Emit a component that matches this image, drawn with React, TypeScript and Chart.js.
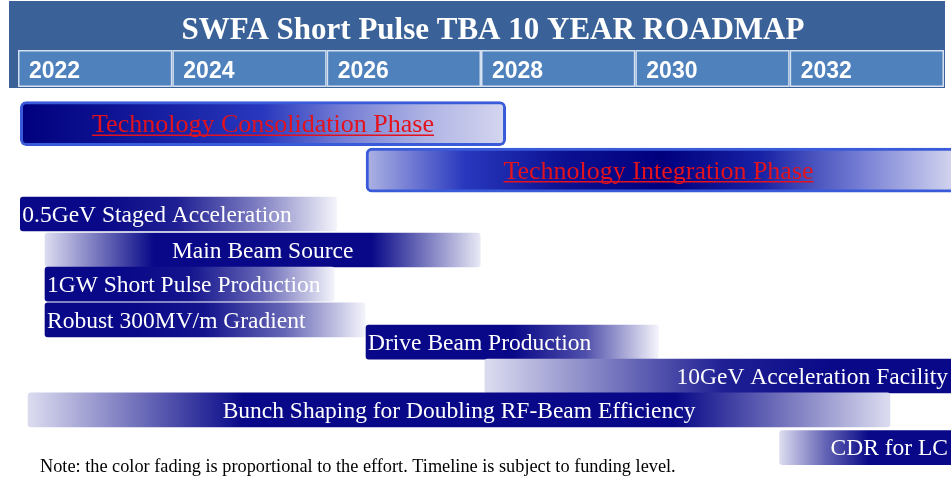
import { useEffect, useRef } from 'react';
import { Chart, registerables } from 'chart.js';

Chart.register(...registerables);

// ---------- data ----------
const TITLE = 'SWFA Short Pulse TBA 10 YEAR ROADMAP';
const YEAR_TICKS = [2022, 2024, 2026, 2028, 2030, 2032];
const YEAR_MIN = 2022;
const YEAR_MAX = 2034;
const NOTE = 'Note: the color fading is proportional to the effort. Timeline is subject to funding level.';

const PHASES = ['Technology Consolidation Phase', 'Technology Integration Phase'];
const PHASE_START = [2022.03, 2026.51];
const PHASE_END = [2028.32, 2034.2];
const PHASE_ROW = [0.49, 1.78];
const PHASE_EFFORT = [
  [1, 0.85, 0.68, 0.5, 0.3, 0.15, 0.05],
  [0.15, 0.5, 0.85, 1, 0.7, 0.3, 0.04],
];

const TASKS = [
  '0.5GeV Staged Acceleration',
  'Main Beam Source',
  '1GW Short Pulse Production',
  'Robust 300MV/m Gradient',
  'Drive Beam Production',
  '10GeV Acceleration Facility',
  'Bunch Shaping for Doubling RF-Beam Efficiency',
  'CDR for LC',
];
const TASK_START = [2022.03, 2022.35, 2022.35, 2022.35, 2026.51, 2028.05, 2022.13, 2031.87];
const TASK_END = [2026.13, 2027.99, 2026.1, 2026.5, 2030.3, 2034.2, 2033.3, 2034.2];
const TASK_ROW = [3.0, 4.0, 4.95, 5.94, 6.56, 7.5, 8.44, 9.49];
const TASK_EFFORT = [
  [1, 1, 0.9, 0.5, 0],
  [0.1, 1, 1, 1, 0.05],
  [1, 1, 0.95, 0.6, 0],
  [1, 1, 0.95, 0.6, 0],
  [1, 1, 1, 0.7, 0],
  [0.1, 0.5, 0.9, 1, 1],
  [0.1, 1, 1, 1, 0.1],
  [0.1, 0.6, 1, 1, 1],
];
const TASK_ALIGN = ['left', 'center', 'left', 'left', 'left', 'right', 'center', 'right'];
const PHASE_ALIGN = ['center', 'center'];

// ---------- colours ----------
function mix(a: number[], b: number[], t: number) {
  return a.map((v, i) => Math.round(v + (b[i] - v) * t));
}
function taskColor(e: number) {
  const dark = [8, 8, 136];
  const light = [244, 244, 251];
  const c = mix(light, dark, e);
  return `rgb(${c[0]},${c[1]},${c[2]})`;
}
function phaseColor(e: number) {
  const dark = [0, 0, 125];
  const mid = [40, 56, 190];
  const light = [232, 232, 244];
  const c = e < 0.5 ? mix(light, mid, e / 0.5) : mix(mid, dark, (e - 0.5) / 0.5);
  return `rgb(${c[0]},${c[1]},${c[2]})`;
}

function gradientFor(ctx: any, profile: number[], colorFn: (e: number) => string) {
  if (ctx.type !== 'data') return 'rgba(0,0,0,0)';
  const chart = ctx.chart;
  const xs = chart.scales.x;
  const raw = ctx.raw as { x: number[] };
  const x0 = xs.getPixelForValue(raw.x[0]);
  const x1 = xs.getPixelForValue(raw.x[1]);
  if (!isFinite(x0) || !isFinite(x1) || x0 === x1) return colorFn(profile[0]);
  const g = chart.ctx.createLinearGradient(x0, 0, x1, 0);
  profile.forEach((e, i) => g.addColorStop(i / (profile.length - 1), colorFn(e)));
  return g;
}

// ---------- plugins ----------
const headerPlugin = {
  id: 'roadmapHeader',
  beforeDraw(chart: any) {
    const ctx = chart.ctx as CanvasRenderingContext2D;
    const xs = chart.scales.x;
    ctx.save();
    ctx.fillStyle = '#3B6298';
    ctx.fillRect(9, 1, 936, 87);
    ctx.fillStyle = '#FFFFFF';
    ctx.font = 'bold 31px "Liberation Serif"';
    ctx.textAlign = 'center';
    ctx.textBaseline = 'alphabetic';
    ctx.fillText(TITLE, 493, 39);
    YEAR_TICKS.forEach((t) => {
      const x0 = xs.getPixelForValue(t);
      const x1 = xs.getPixelForValue(t + 2);
      ctx.fillStyle = '#4F81BD';
      ctx.fillRect(x0, 50, x1 - x0, 37);
      ctx.strokeStyle = '#D4E0EF';
      ctx.lineWidth = 1.5;
      ctx.strokeRect(x0 + 0.75, 50.75, x1 - x0 - 1.5, 35.5);
      ctx.fillStyle = '#FFFFFF';
      ctx.font = 'bold 23px "Liberation Sans"';
      ctx.textAlign = 'left';
      ctx.fillText(String(t), x0 + 11, 78);
    });
    ctx.fillStyle = '#000000';
    ctx.font = '18.3px "Liberation Serif"';
    ctx.textAlign = 'left';
    ctx.fillText(NOTE, 40, 472);
    ctx.restore();
  },
};

const labelPlugin = {
  id: 'roadmapLabels',
  afterDatasetsDraw(chart: any) {
    const ctx = chart.ctx as CanvasRenderingContext2D;
    const W = chart.width;
    ctx.save();
    chart.data.datasets.forEach((ds: any, di: number) => {
      const meta = chart.getDatasetMeta(di);
      const isPhase = di === 0;
      const names = isPhase ? PHASES : TASKS;
      const aligns = isPhase ? PHASE_ALIGN : TASK_ALIGN;
      meta.data.forEach((el: any, i: number) => {
        const p = el.getProps(['x', 'base', 'y'], true);
        const left = Math.min(p.x, p.base);
        const right = Math.min(Math.max(p.x, p.base), W);
        const size = isPhase ? 26 : 23.5;
        ctx.font = `${size}px "Liberation Serif"`;
        ctx.fillStyle = isPhase ? '#E3121C' : '#FFFFFF';
        ctx.textBaseline = 'alphabetic';
        const al = aligns[i];
        let tx: number;
        if (al === 'left') { tx = left + 2; ctx.textAlign = 'left'; }
        else if (al === 'right') { tx = right - 3; ctx.textAlign = 'right'; }
        else { tx = (left + right) / 2; ctx.textAlign = 'center'; }
        const baseline = p.y + size * 0.33;
        ctx.fillText(names[i], tx, baseline);
        if (isPhase) {
          const w = ctx.measureText(names[i]).width;
          const sx = al === 'left' ? tx : al === 'right' ? tx - w : tx - w / 2;
          ctx.strokeStyle = '#E3121C';
          ctx.lineWidth = 1.5;
          ctx.beginPath();
          ctx.moveTo(sx, baseline + 3);
          ctx.lineTo(sx + w, baseline + 3);
          ctx.stroke();
        }
      });
    });
    ctx.restore();
  },
};

export default function App() {
  const ref = useRef<HTMLCanvasElement | null>(null);
  useEffect(() => {
    if (!ref.current) return;
    const chart = new Chart(ref.current, {
      type: 'bar',
      data: {
        datasets: [
          {
            label: 'Phases',
            data: PHASES.map((_, i) => ({ x: [PHASE_START[i], PHASE_END[i]], y: PHASE_ROW[i] })) as any,
            barThickness: 44,
            grouped: false,
            clip: false as any,
            borderWidth: 3,
            borderColor: '#3A5BD9',
            borderRadius: 6,
            borderSkipped: false,
            backgroundColor: (c: any) => gradientFor(c, PHASE_EFFORT[c.dataIndex] || [1], phaseColor),
          } as any,
          {
            label: 'Tasks',
            data: TASKS.map((_, i) => ({ x: [TASK_START[i], TASK_END[i]], y: TASK_ROW[i] })) as any,
            barThickness: 34,
            grouped: false,
            clip: false as any,
            borderWidth: 0,
            borderRadius: 3,
            borderSkipped: false,
            backgroundColor: (c: any) => gradientFor(c, TASK_EFFORT[c.dataIndex] || [1], taskColor),
          } as any,
        ],
      },
      options: {
        indexAxis: 'y',
        animation: false,
        responsive: true,
        maintainAspectRatio: false,
        layout: { padding: { left: 18, right: 7, top: 106, bottom: 11 } },
        scales: {
          x: { type: 'linear', min: YEAR_MIN, max: YEAR_MAX, display: false, offset: false },
          y: { type: 'linear', min: 0, max: 10, reverse: true, display: false, offset: false },
        },
        plugins: { legend: { display: false }, tooltip: { enabled: false }, title: { display: false } },
      },
      plugins: [headerPlugin, labelPlugin],
    });
    return () => chart.destroy();
  }, []);
  return (
    <div style={{ position: 'fixed', left: 0, top: 0, width: 951, height: 477, background: '#FFFFFF' }}>
      <canvas ref={ref} />
    </div>
  );
}
